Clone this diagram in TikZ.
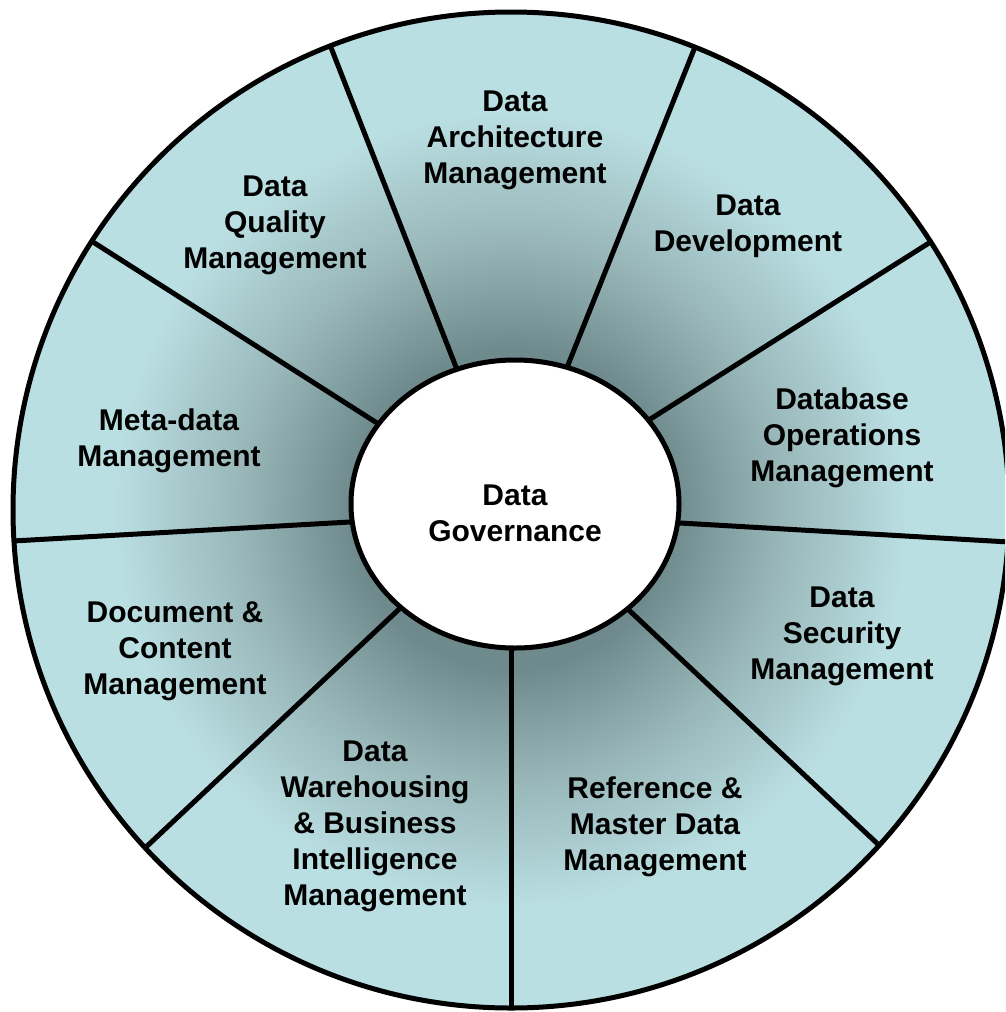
\documentclass[tikz,border=0pt]{standalone}
\usepackage{fontspec}
\setmainfont{Liberation Sans}
\usetikzlibrary{calc}
\definecolor{ringdark}{HTML}{6E8A8C}
\definecolor{ringmid}{HTML}{98B6B8}
\definecolor{ringlight}{HTML}{BADFE3}
\pgfdeclareradialshading{ringshade}{\pgfpoint{0bp}{0bp}}{color(0bp)=(ringdark); color(8bp)=(ringdark); color(13.5bp)=(ringmid); color(20bp)=(ringlight); color(50bp)=(ringlight)}
\begin{document}
\begin{tikzpicture}[x=1pt,y=-1pt,
  lab/.style={font=\bfseries\fontsize{30}{36}\selectfont, align=center, inner sep=0pt, text=black},
  edge/.style={line width=5pt, draw=black}]
\useasboundingbox (0,0) rectangle (1005,1012);
\clip (0,0) rectangle (1005,1012);
% ring
\shade[shading=ringshade] (511,510) circle (498pt);
% spoke end points
\coordinate (i1) at (456,367); \coordinate (o1) at (330,45);
\coordinate (i2) at (568,365); \coordinate (o2) at (695,47);
\coordinate (i3) at (377,423); \coordinate (o3) at (93,242);
\coordinate (i4) at (652,418); \coordinate (o4) at (929,243);
\coordinate (i5) at (350,522); \coordinate (o5) at (13,541);
\coordinate (i6) at (680,523); \coordinate (o6) at (1009,542);
\coordinate (i7) at (395,613); \coordinate (o7) at (145,848);
\coordinate (i8) at (632,613); \coordinate (o8) at (882,848);
\coordinate (i9) at (511,648); \coordinate (o9) at (511,1008);
\begin{scope}
  \clip (511,510) circle (498pt);
  \foreach \k in {1,...,9}{
    \draw[edge] ($(i\k)!-0.05!(o\k)$) -- ($(i\k)!1.05!(o\k)$);
  }
\end{scope}
\draw[edge] (511,510) circle (498pt);
% centre
\draw[edge, fill=white] (515,504) ellipse [x radius=164pt, y radius=144pt];
\node[lab] (gov) at (515,513) {Data\\Governance};
% sector labels
\node[lab] (arch) at (515,140) {Data\\Architecture\\Management};
\node[lab] (dev) at (748,226) {Data\\Development};
\node[lab] (dbops) at (842,438) {Database\\Operations\\Management};
\node[lab] (sec) at (842,636) {Data\\Security\\Management};
\node[lab] (ref) at (655,827) {Reference \&\\Master Data\\Management};
\node[lab] (dwbi) at (375,826) {Data\\Warehousing\\\& Business\\Intelligence\\Management};
\node[lab] (doc) at (175,651) {Document \&\\Content\\Management};
\node[lab] (meta) at (169,441) {Meta-data\\Management};
\node[lab] (dq) at (275,225) {Data\\Quality\\Management};
\end{tikzpicture}
\end{document}
